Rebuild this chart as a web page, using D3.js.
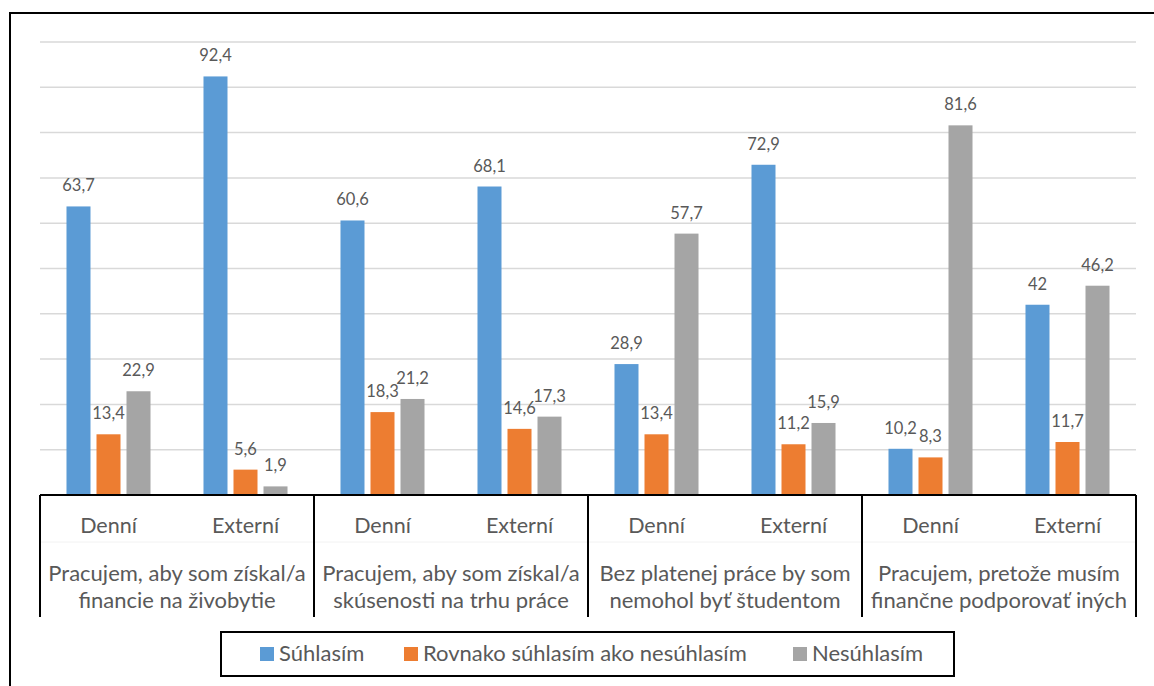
<!DOCTYPE html>
<html>
<head>
<meta charset="utf-8">
<script src="https://cdn.jsdelivr.net/npm/d3@7"></script>
<style>
  body { margin: 0; background: #fff; }
  svg { display: block; font-family: Lato, "Open Sans", sans-serif; }
</style>
</head>
<body>
<svg width="1154" height="686"></svg>
<script>
// data
const groups = [
  ["Pracujem, aby som získal/a", "financie na živobytie"],
  ["Pracujem, aby som získal/a", "skúsenosti na trhu práce"],
  ["Bez platenej práce by som", "nemohol byť študentom"],
  ["Pracujem, pretože musím", "finančne podporovať iných"]
];
const subLabels = ["Denní", "Externí"];
const seriesNames = ["Súhlasím", "Rovnako súhlasím ako nesúhlasím", "Nesúhlasím"];
const suhlasim = [63.7, 92.4, 60.6, 68.1, 28.9, 72.9, 10.2, 42];
const rovnako = [13.4, 5.6, 18.3, 14.6, 13.4, 11.2, 8.3, 11.7];
const nesuhlasim = [22.9, 1.9, 21.2, 17.3, 57.7, 15.9, 81.6, 46.2];
const yTicks = [10, 20, 30, 40, 50, 60, 70, 80, 90, 100];

const colors = ["#5B9BD5", "#ED7D31", "#A5A5A5"];
const textColor = "#595959";

const svg = d3.select("svg");

// outer frame (right and bottom edges run off the picture)
svg.append("rect")
  .attr("x", 10).attr("y", 13)
  .attr("width", 1300).attr("height", 800)
  .attr("fill", "none").attr("stroke", "#000").attr("stroke-width", 2);

const plotLeft = 40, plotRight = 1136, plotTop = 42, base = 495;

// one slot per group x sub label
const slots = [];
groups.forEach((g, gi) => subLabels.forEach((s, si) => slots.push(`${gi}-${si}`)));

const x0 = d3.scaleBand().domain(slots).range([plotLeft, plotRight]);
const x1 = d3.scaleBand().domain(seriesNames).range([0, x0.bandwidth()])
  .paddingInner(0.2).paddingOuter(0.883);
const y = d3.scaleLinear().domain([0, 100]).range([base, plotTop]);

// gridlines
svg.append("g").selectAll("line")
  .data(yTicks)
  .enter().append("line")
    .attr("x1", plotLeft).attr("x2", plotRight)
    .attr("y1", d => y(d)).attr("y2", d => y(d))
    .attr("stroke", "#D9D9D9").attr("stroke-width", 1.5);

// bars
const rows = slots.map((slot, i) => ({
  slot,
  values: [suhlasim[i], rovnako[i], nesuhlasim[i]]
}));

const slotG = svg.append("g").selectAll("g")
  .data(rows)
  .enter().append("g")
    .attr("transform", d => `translate(${x0(d.slot)},0)`);

slotG.selectAll("rect")
  .data(d => d.values.map((v, k) => ({ name: seriesNames[k], v, k })))
  .enter().append("rect")
    .attr("x", d => x1(d.name))
    .attr("width", x1.bandwidth())
    .attr("y", d => y(d.v))
    .attr("height", d => base - y(d.v))
    .attr("fill", d => colors[d.k]);

const fmt = v => String(v).replace(".", ",");

slotG.selectAll("text")
  .data(d => d.values.map((v, k) => ({ name: seriesNames[k], v, k })))
  .enter().append("text")
    .attr("x", d => x1(d.name) + x1.bandwidth() / 2)
    .attr("y", d => y(d.v) - 15)
    .attr("text-anchor", "middle")
    .attr("font-size", 16.5)
    .attr("fill", textColor)
    .text(d => fmt(d.v));

// category axis
const axis = svg.append("g");
axis.append("line")
  .attr("x1", plotLeft).attr("x2", plotRight)
  .attr("y1", base).attr("y2", base)
  .attr("stroke", "#000").attr("stroke-width", 2);

axis.append("line")
  .attr("x1", plotLeft).attr("x2", plotRight)
  .attr("y1", 542).attr("y2", 542)
  .attr("stroke", "#F2F2F2").attr("stroke-width", 1);

const groupEdges = d3.range(groups.length + 1).map(i => i < groups.length ? x0(slots[i * 2]) : plotRight);
axis.selectAll(".sep")
  .data(groupEdges)
  .enter().append("line")
    .attr("class", "sep")
    .attr("x1", d => d).attr("x2", d => d)
    .attr("y1", base).attr("y2", 617)
    .attr("stroke", "#000").attr("stroke-width", 2);

axis.selectAll(".sub")
  .data(slots)
  .enter().append("text")
    .attr("class", "sub")
    .attr("x", d => x0(d) + x0.bandwidth() / 2)
    .attr("y", 533)
    .attr("text-anchor", "middle")
    .attr("font-size", 21.5)
    .attr("fill", textColor)
    .text((d, i) => subLabels[i % 2]);

const grpText = axis.selectAll(".grp")
  .data(groups)
  .enter().append("text")
    .attr("class", "grp")
    .attr("text-anchor", "middle")
    .attr("font-size", 22)
    .attr("fill", textColor);

grpText.selectAll("tspan")
  .data((d, i) => d.map(line => ({ line, cx: (groupEdges[i] + groupEdges[i + 1]) / 2 })))
  .enter().append("tspan")
    .attr("x", d => d.cx)
    .attr("y", (d, i) => 581 + i * 27)
    .text(d => d.line);

// legend
const legend = svg.append("g");
legend.append("rect")
  .attr("x", 221).attr("y", 632)
  .attr("width", 733).attr("height", 44)
  .attr("fill", "#fff").attr("stroke", "#000").attr("stroke-width", 2);

const legendX = [260, 404, 793];
const legendItem = legend.selectAll(".item")
  .data(seriesNames)
  .enter().append("g")
    .attr("class", "item")
    .attr("transform", (d, i) => `translate(${legendX[i]},647)`);

legendItem.append("rect")
  .attr("width", 14).attr("height", 14)
  .attr("fill", (d, i) => colors[i]);

legendItem.append("text")
  .attr("x", 19).attr("y", 14)
  .attr("font-size", 22)
  .attr("fill", textColor)
  .text(d => d);
</script>
</body>
</html>
